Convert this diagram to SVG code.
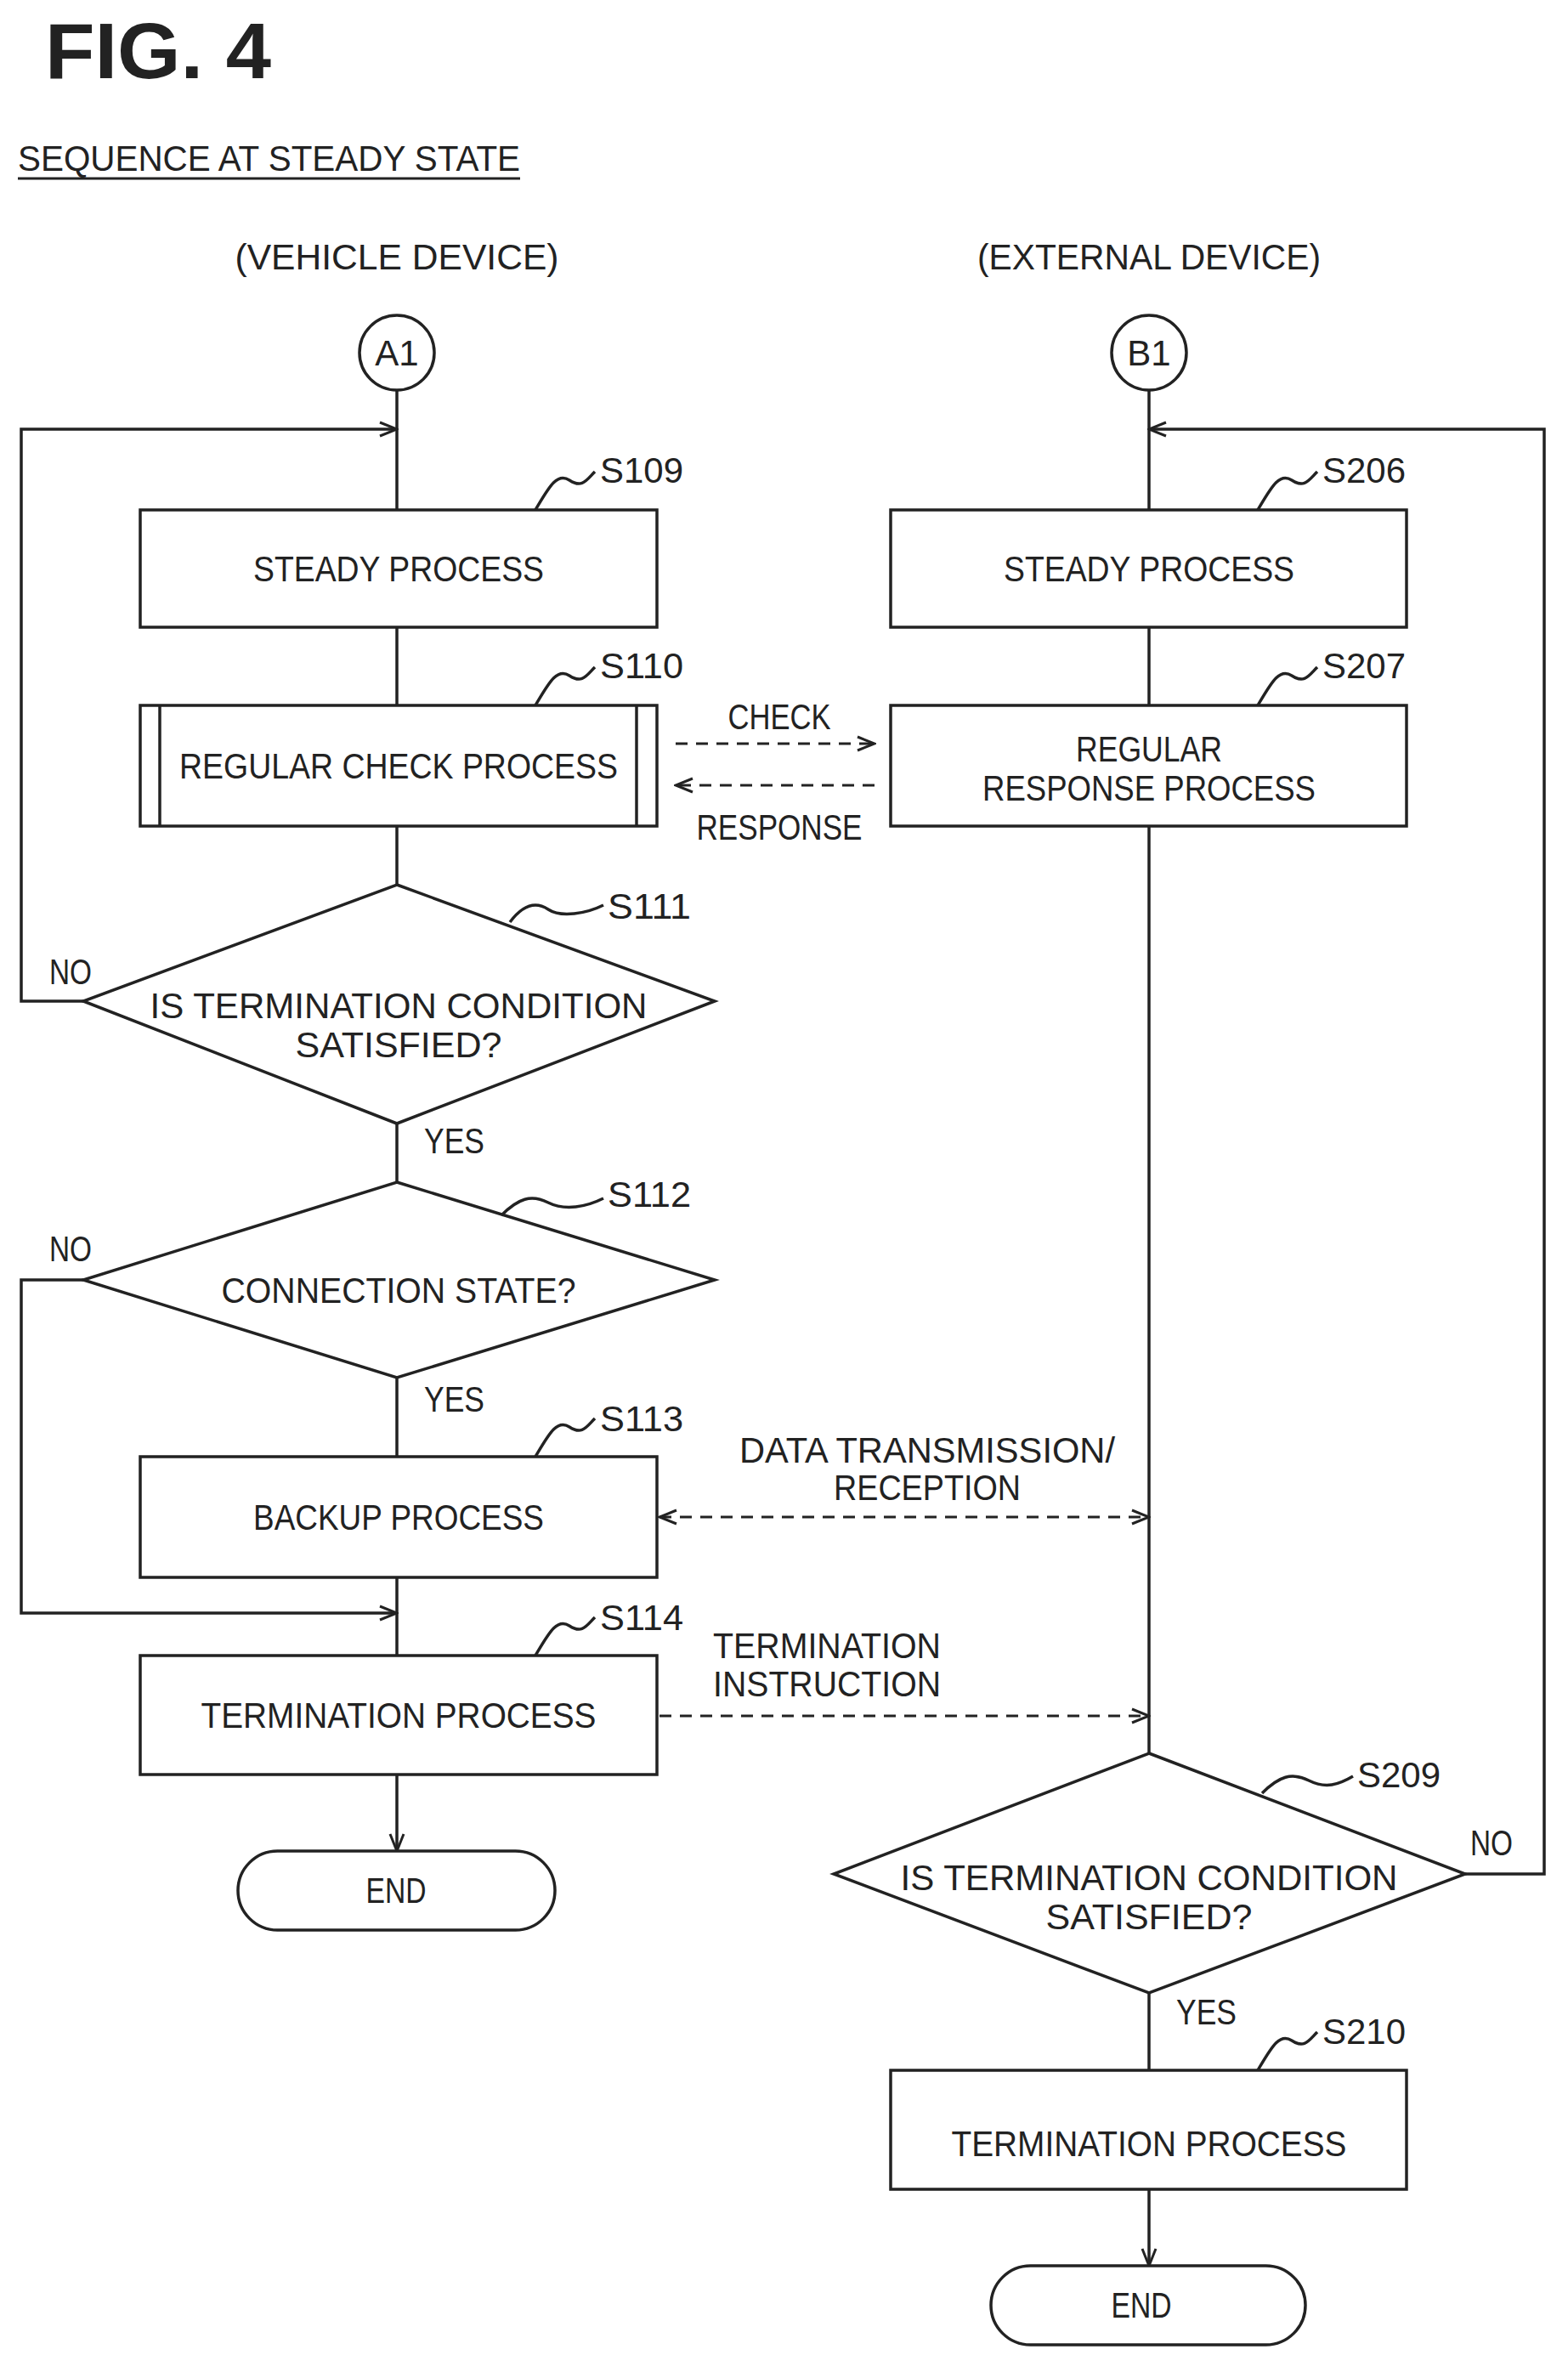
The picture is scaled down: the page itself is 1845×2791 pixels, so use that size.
<svg xmlns="http://www.w3.org/2000/svg" width="1845" height="2791" viewBox="0 0 1845 2791">
<style>
.ln{fill:none;stroke:#222;stroke-width:3.5}
.ds{fill:none;stroke:#222;stroke-width:3;stroke-dasharray:14 10}
.bx{fill:#fff;stroke:#222;stroke-width:3.5}
.t{font-family:"Liberation Sans",Arial,sans-serif;font-size:42px;fill:#222}
.m{text-anchor:middle}
</style>
<defs>
<marker id="ah" markerWidth="24" markerHeight="20" refX="22" refY="10" orient="auto-start-reverse" markerUnits="userSpaceOnUse">
<path d="M2,2 L22,10 L2,18" fill="none" stroke="#222" stroke-width="3"/>
</marker>
</defs>
<rect width="1845" height="2791" fill="#fff"/>
<text x="53" y="92" style="font-family:'Liberation Sans',Arial,sans-serif;font-weight:bold;font-size:92px;fill:#222" textLength="266" lengthAdjust="spacingAndGlyphs">FIG. 4</text>
<text class="t" x="21" y="201" textLength="591" lengthAdjust="spacingAndGlyphs">SEQUENCE AT STEADY STATE</text>
<line x1="21" y1="210" x2="612" y2="210" stroke="#222" stroke-width="3"/>
<text class="t m" x="467" y="317" textLength="381" lengthAdjust="spacingAndGlyphs">(VEHICLE DEVICE)</text>
<text class="t m" x="1352" y="317" textLength="404" lengthAdjust="spacingAndGlyphs">(EXTERNAL DEVICE)</text>

<g id="connectors">
<line class="ln" x1="467" y1="459" x2="467" y2="1041"/>
<polyline class="ln" points="98,1178 25,1178 25,505 467,505" marker-end="url(#ah)"/>
<line class="ln" x1="467" y1="1322" x2="467" y2="1391"/>
<line class="ln" x1="467" y1="1621" x2="467" y2="1714"/>
<polyline class="ln" points="98,1506 25,1506 25,1898 467,1898" marker-end="url(#ah)"/>
<line class="ln" x1="467" y1="1856" x2="467" y2="1948"/>
<line class="ln" x1="467" y1="2088" x2="467" y2="2178" marker-end="url(#ah)"/>
<line class="ln" x1="1352" y1="459" x2="1352" y2="2063"/>
<polyline class="ln" points="1724,2205 1817,2205 1817,505 1352,505" marker-end="url(#ah)"/>
<line class="ln" x1="1352" y1="2345" x2="1352" y2="2436"/>
<line class="ln" x1="1352" y1="2576" x2="1352" y2="2666" marker-end="url(#ah)"/>
<line class="ds" x1="795" y1="875" x2="1029" y2="875" marker-end="url(#ah)"/>
<line class="ds" x1="1029" y1="924" x2="795" y2="924" marker-end="url(#ah)"/>
<line class="ds" x1="776" y1="1785" x2="1352" y2="1785" marker-start="url(#ah)" marker-end="url(#ah)"/>
<line class="ds" x1="776" y1="2019" x2="1352" y2="2019" marker-end="url(#ah)"/>
<text class="t m" x="917" y="858" textLength="121" lengthAdjust="spacingAndGlyphs">CHECK</text>
<text class="t m" x="917" y="988" textLength="195" lengthAdjust="spacingAndGlyphs">RESPONSE</text>
<text class="t m" x="1091" y="1721" textLength="442" lengthAdjust="spacingAndGlyphs">DATA TRANSMISSION/</text>
<text class="t m" x="1091" y="1765" textLength="220" lengthAdjust="spacingAndGlyphs">RECEPTION</text>
<text class="t" x="839" y="1951" textLength="268" lengthAdjust="spacingAndGlyphs">TERMINATION</text>
<text class="t" x="839" y="1996" textLength="268" lengthAdjust="spacingAndGlyphs">INSTRUCTION</text>
<text class="t" x="58" y="1158" textLength="50" lengthAdjust="spacingAndGlyphs">NO</text>
<text class="t" x="58" y="1484" textLength="50" lengthAdjust="spacingAndGlyphs">NO</text>
<text class="t" x="499" y="1357" textLength="71" lengthAdjust="spacingAndGlyphs">YES</text>
<text class="t" x="499" y="1661" textLength="71" lengthAdjust="spacingAndGlyphs">YES</text>
<text class="t" x="1730" y="2183" textLength="50" lengthAdjust="spacingAndGlyphs">NO</text>
<text class="t" x="1384" y="2382" textLength="71" lengthAdjust="spacingAndGlyphs">YES</text>
</g>

<g id="A1"><circle class="bx" cx="467" cy="415" r="44"/><text class="t m" x="467" y="430">A1</text></g>
<g id="B1"><circle class="bx" cx="1352" cy="415" r="44"/><text class="t m" x="1352" y="430">B1</text></g>

<g id="S109"><rect class="bx" x="165" y="600" width="608" height="138"/>
<text class="t m" x="469" y="684" textLength="342" lengthAdjust="spacingAndGlyphs">STEADY PROCESS</text>
<path class="ln" d="M630,600 C645,575 655,555 670,565 S690,565 700,555" stroke-width="2.5"/>
<text class="t" x="706" y="568" textLength="98" lengthAdjust="spacingAndGlyphs">S109</text></g>

<g id="S110"><rect class="bx" x="165" y="830" width="608" height="142"/>
<line class="ln" x1="188" y1="830" x2="188" y2="972"/><line class="ln" x1="749" y1="830" x2="749" y2="972"/>
<text class="t m" x="469" y="916" textLength="516" lengthAdjust="spacingAndGlyphs">REGULAR CHECK PROCESS</text>
<path class="ln" d="M630,830 C645,805 655,785 670,795 S690,795 700,785" stroke-width="2.5"/>
<text class="t" x="706" y="798" textLength="98" lengthAdjust="spacingAndGlyphs">S110</text></g>

<g id="S111"><polygon class="bx" points="467,1041 841,1178 467,1322 98,1178"/>
<text class="t m" x="469" y="1198" textLength="585" lengthAdjust="spacingAndGlyphs">IS TERMINATION CONDITION</text>
<text class="t m" x="469" y="1244" textLength="243" lengthAdjust="spacingAndGlyphs">SATISFIED?</text>
<path class="ln" d="M600,1085 C615,1065 630,1060 645,1070 S690,1075 710,1065" stroke-width="2.5"/>
<text class="t" x="715" y="1081" textLength="98" lengthAdjust="spacingAndGlyphs">S111</text></g>

<g id="S112"><polygon class="bx" points="467,1391 841,1506 467,1621 98,1506"/>
<text class="t m" x="469" y="1533" textLength="417" lengthAdjust="spacingAndGlyphs">CONNECTION STATE?</text>
<path class="ln" d="M590,1430 C610,1410 625,1405 645,1415 S690,1420 710,1410" stroke-width="2.5"/>
<text class="t" x="715" y="1420" textLength="98" lengthAdjust="spacingAndGlyphs">S112</text></g>

<g id="S113"><rect class="bx" x="165" y="1714" width="608" height="142"/>
<text class="t m" x="469" y="1800" textLength="342" lengthAdjust="spacingAndGlyphs">BACKUP PROCESS</text>
<path class="ln" d="M630,1714 C645,1689 655,1669 670,1679 S690,1679 700,1669" stroke-width="2.5"/>
<text class="t" x="706" y="1684" textLength="98" lengthAdjust="spacingAndGlyphs">S113</text></g>

<g id="S114"><rect class="bx" x="165" y="1948" width="608" height="140"/>
<text class="t m" x="469" y="2033" textLength="465" lengthAdjust="spacingAndGlyphs">TERMINATION PROCESS</text>
<path class="ln" d="M630,1948 C645,1923 655,1903 670,1913 S690,1913 700,1903" stroke-width="2.5"/>
<text class="t" x="706" y="1918" textLength="98" lengthAdjust="spacingAndGlyphs">S114</text></g>

<g id="END1"><rect class="bx" x="280" y="2178" width="373" height="93" rx="46.5"/>
<text class="t m" x="466" y="2239" textLength="71" lengthAdjust="spacingAndGlyphs">END</text></g>

<g id="S206"><rect class="bx" x="1048" y="600" width="607" height="138"/>
<text class="t m" x="1352" y="684" textLength="342" lengthAdjust="spacingAndGlyphs">STEADY PROCESS</text>
<path class="ln" d="M1480,600 C1495,575 1505,555 1520,565 S1540,565 1550,555" stroke-width="2.5"/>
<text class="t" x="1556" y="568" textLength="98" lengthAdjust="spacingAndGlyphs">S206</text></g>

<g id="S207"><rect class="bx" x="1048" y="830" width="607" height="142"/>
<text class="t m" x="1352" y="896" textLength="172" lengthAdjust="spacingAndGlyphs">REGULAR</text>
<text class="t m" x="1352" y="942" textLength="392" lengthAdjust="spacingAndGlyphs">RESPONSE PROCESS</text>
<path class="ln" d="M1480,830 C1495,805 1505,785 1520,795 S1540,795 1550,785" stroke-width="2.5"/>
<text class="t" x="1556" y="798" textLength="98" lengthAdjust="spacingAndGlyphs">S207</text></g>

<g id="S209"><polygon class="bx" points="1352,2063 1724,2205 1352,2345 981,2205"/>
<text class="t m" x="1352" y="2224" textLength="585" lengthAdjust="spacingAndGlyphs">IS TERMINATION CONDITION</text>
<text class="t m" x="1352" y="2270" textLength="243" lengthAdjust="spacingAndGlyphs">SATISFIED?</text>
<path class="ln" d="M1485,2110 C1505,2090 1520,2085 1540,2095 S1575,2100 1592,2090" stroke-width="2.5"/>
<text class="t" x="1597" y="2103" textLength="98" lengthAdjust="spacingAndGlyphs">S209</text></g>

<g id="S210"><rect class="bx" x="1048" y="2436" width="607" height="140"/>
<text class="t m" x="1352" y="2537" textLength="465" lengthAdjust="spacingAndGlyphs">TERMINATION PROCESS</text>
<path class="ln" d="M1480,2436 C1495,2411 1505,2391 1520,2401 S1540,2401 1550,2391" stroke-width="2.5"/>
<text class="t" x="1556" y="2405" textLength="98" lengthAdjust="spacingAndGlyphs">S210</text></g>

<g id="END2"><rect class="bx" x="1166" y="2666" width="370" height="93" rx="46.5"/>
<text class="t m" x="1343" y="2727" textLength="71" lengthAdjust="spacingAndGlyphs">END</text></g>
</svg>
